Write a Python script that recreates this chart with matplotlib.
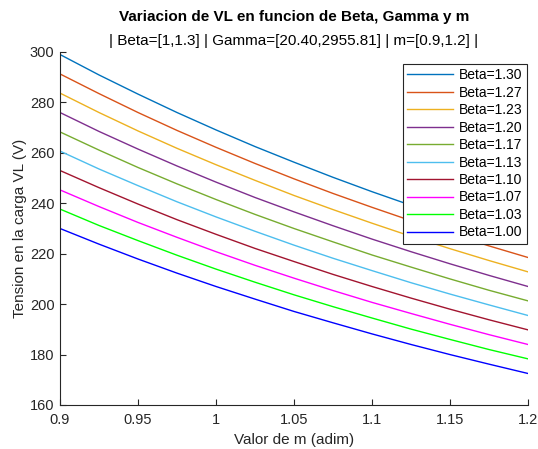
import matplotlib
matplotlib.use("Agg")
import matplotlib.pyplot as plt

m_values = [0.9, 0.925, 0.95, 0.975, 1.0, 1.025, 1.05, 1.075, 1.1, 1.125, 1.15, 1.175, 1.2]
beta_labels = ["Beta=1.30", "Beta=1.27", "Beta=1.23", "Beta=1.20", "Beta=1.17",
               "Beta=1.13", "Beta=1.10", "Beta=1.07", "Beta=1.03", "Beta=1.00"]
vl_b130 = [299.0, 290.9, 283.3, 276.0, 269.1, 262.5, 256.3, 250.3, 244.6, 239.2, 234.0, 229.0, 224.3]
vl_b127 = [291.3, 283.5, 276.0, 268.9, 262.2, 255.8, 249.7, 243.9, 238.4, 233.1, 228.0, 223.1, 218.5]
vl_b123 = [283.7, 276.0, 268.7, 261.8, 255.3, 249.1, 243.1, 237.5, 232.1, 226.9, 222.0, 217.3, 212.8]
vl_b120 = [276.0, 268.5, 261.5, 254.8, 248.4, 242.3, 236.6, 231.1, 225.8, 220.8, 216.0, 211.4, 207.0]
vl_b117 = [268.3, 261.1, 254.2, 247.7, 241.5, 235.6, 230.0, 224.7, 219.5, 214.7, 210.0, 205.5, 201.3]
vl_b113 = [260.7, 253.6, 247.0, 240.6, 234.6, 228.9, 223.4, 218.2, 213.3, 208.5, 204.0, 199.7, 195.5]
vl_b110 = [253.0, 246.2, 239.7, 233.5, 227.7, 222.1, 216.9, 211.8, 207.0, 202.4, 198.0, 193.8, 189.8]
vl_b107 = [245.3, 238.7, 232.4, 226.5, 220.8, 215.4, 210.3, 205.4, 200.7, 196.3, 192.0, 187.9, 184.0]
vl_b103 = [237.7, 231.2, 225.2, 219.4, 213.9, 208.7, 203.7, 199.0, 194.5, 190.1, 186.0, 182.0, 178.3]
vl_b100 = [230.0, 223.8, 217.9, 212.3, 207.0, 202.0, 197.1, 192.6, 188.2, 184.0, 180.0, 176.2, 172.5]
series = [vl_b130, vl_b127, vl_b123, vl_b120, vl_b117,
          vl_b113, vl_b110, vl_b107, vl_b103, vl_b100]
colors = [(0, 0.447, 0.741), (0.85, 0.325, 0.098), (0.929, 0.694, 0.125),
          (0.494, 0.184, 0.556), (0.466, 0.674, 0.188), (0.301, 0.745, 0.933),
          (0.635, 0.078, 0.184), (1, 0, 1), (0, 1, 0), (0, 0, 1)]
x_ticks = [0.9, 0.95, 1.0, 1.05, 1.1, 1.15, 1.2]
x_ticklabels = ["0.9", "0.95", "1", "1.05", "1.1", "1.15", "1.2"]
y_ticks = [160, 180, 200, 220, 240, 260, 280, 300]

plt.rcParams['font.family'] = ['Liberation Sans', 'DejaVu Sans']
fig = plt.figure(figsize=(5.38, 4.49), dpi=100)
ax = fig.add_axes([60/538, 44/449, 468/538, 353/449])

for vals, lab, c in zip(series, beta_labels, colors):
    ax.plot(m_values, vals, color=c, lw=1.0, label=lab)

ax.set_xlim(0.9, 1.2)
ax.set_ylim(160, 300)
ax.set_xticks(x_ticks)
ax.set_xticklabels(x_ticklabels)
ax.set_yticks(y_ticks)
axcol = (0.15, 0.15, 0.15)
for s in ['top', 'right']:
    ax.spines[s].set_visible(False)
for s in ['left', 'bottom']:
    ax.spines[s].set_color(axcol)
    ax.spines[s].set_linewidth(0.8)
ax.tick_params(direction='in', length=4, width=0.8, colors=axcol, labelsize=10.5)
ax.tick_params(axis='x', pad=6)
ax.tick_params(axis='y', pad=4)

ax.set_xlabel("Valor de m (adim)", fontsize=11, color=axcol, labelpad=4)
ax.set_ylabel("Tension en la carga VL (V)", fontsize=11, color=axcol, labelpad=2)

fig.text(294/538, 1 - 17/449, "Variacion de VL en funcion de Beta, Gamma y m",
         ha='center', va='center', fontsize=11, fontweight='bold', color='black')
fig.text(294/538, 1 - 41/449, "| Beta=[1,1.3] | Gamma=[20.40,2955.81] | m=[0.9,1.2] |",
         ha='center', va='center', fontsize=11, color='black')

leg = ax.legend(loc='upper right', bbox_to_anchor=(1.0, 0.97), fontsize=10,
                frameon=True, fancybox=False, edgecolor=axcol, framealpha=1,
                handlelength=3.3, handletextpad=0.4, labelspacing=0.25,
                borderpad=0.3, borderaxespad=0.1)
leg.get_frame().set_linewidth(0.8)

fig.savefig("out.png", dpi=100)
